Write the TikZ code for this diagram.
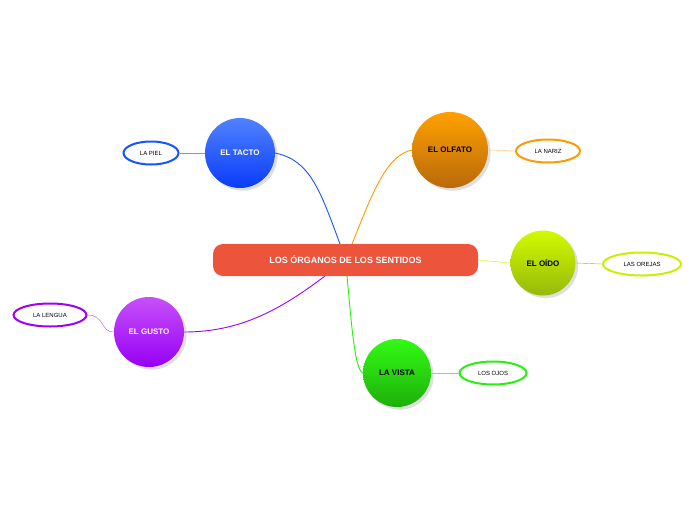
\documentclass[tikz,border=0pt]{standalone}
\usepackage{fontspec}
\setmainfont{Liberation Sans}
\usetikzlibrary{shadows,shapes.geometric}
\begin{document}
\begin{tikzpicture}[x=1pt,y=-1pt,
 main/.style={circle,minimum size=#1,inner sep=0pt,font=\bfseries\fontsize{8}{9}\selectfont,drop shadow={opacity=0.25}},
 leaf/.style={ellipse,draw=#1,line width=2pt,fill=white,font=\fontsize{6}{7}\selectfont,inner sep=0pt},
 conn/.style={line width=0.9pt}]
\useasboundingbox (0,0) rectangle (696,520);
\fill[white] (0,0) rectangle (696,520);
\definecolor{cblue}{HTML}{1555FF}\definecolor{corange}{HTML}{FF9A00}
\definecolor{cyel}{HTML}{C8F000}\definecolor{cgreen}{HTML}{2AEE10}\definecolor{cpurp}{HTML}{A000F8}
% connectors first (behind nodes)
\coordinate (ct) at (340,244);
\coordinate (co) at (352,244);
\coordinate (cv) at (347,276);
\coordinate (cg) at (325,276);
\draw[conn,cblue] (ct) .. controls (320,190) and (310,160) .. (275,153);
\draw[conn,corange] (co) .. controls (370,200) and (385,155) .. (412,150);
\draw[conn,cgreen] (cv) .. controls (352,330) and (355,370) .. (363,373);
\draw[conn,cpurp] (cg) .. controls (280,310) and (240,332) .. (184,332);
% central
\node[rounded corners=10pt,fill={rgb,255:red,236;green,84;blue,60},minimum width=265pt,minimum height=32pt,text=white,font=\bfseries\fontsize{9}{11}\selectfont] (c) at (345.5,260) {LOS ÓRGANOS DE LOS SENTIDOS};
% main nodes
\node[main=70pt,top color={rgb,255:red,80;green,130;blue,255},bottom color={rgb,255:red,10;green,60;blue,250},text=white] (t) at (240,153) {EL TACTO};
\node[main=76pt,top color={rgb,255:red,255;green,160;blue,0},bottom color={rgb,255:red,185;green,105;blue,10}] (o) at (450,150) {EL OLFATO};
\node[main=65pt,top color={rgb,255:red,210;green,250;blue,0},bottom color={rgb,255:red,150;green,185;blue,10}] (d) at (543,263) {EL OÍDO};
\node[main=68pt,top color={rgb,255:red,50;green,250;blue,20},bottom color={rgb,255:red,30;green,175;blue,10}] (v) at (397,373) {LA VISTA};
\node[main=70pt,top color={rgb,255:red,200;green,80;blue,250},bottom color={rgb,255:red,150;green,0;blue,245},text=white] (g) at (149,332) {EL GUSTO};
% leaves
\node[leaf=cblue,minimum width=55pt,minimum height=23pt] (lp) at (151,153) {LA PIEL};
\node[leaf=corange,minimum width=64pt,minimum height=23pt] (ln) at (548,151) {LA NARIZ};
\node[leaf=cyel,minimum width=78pt,minimum height=23pt] (lo) at (642,264) {LAS OREJAS};
\node[leaf=cgreen,minimum width=67pt,minimum height=23pt] (lj) at (493,373) {LOS OJOS};
\node[leaf=cpurp,minimum width=73pt,minimum height=23pt] (ll) at (50,315) {LA LENGUA};
\draw[cyel] (c.east) -- (d.west);
\draw[cblue!60] (lp.east) -- (t.west);
\draw[corange!60] (o.east) -- (ln.west);
\draw[cyel!80!black] (d.east) -- (lo.west);
\draw[cgreen!70] (v.east) -- (lj.west);
\draw[cpurp!70] (ll.east) .. controls (105,315) and (100,332) .. (g.west);
\end{tikzpicture}
\end{document}
